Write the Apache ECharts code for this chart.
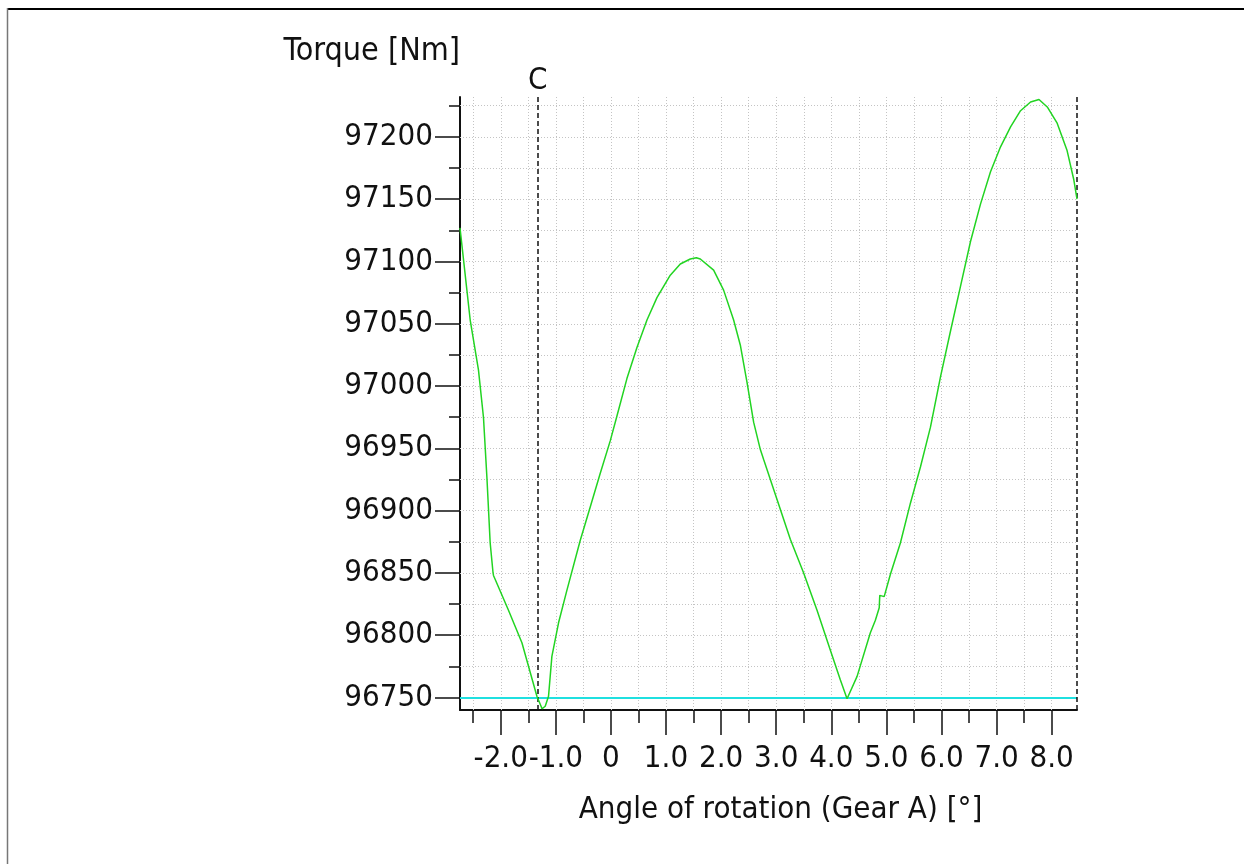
<!DOCTYPE html>
<html>
<head>
<meta charset="utf-8">
<title>Torque vs angle of rotation</title>
<script src="https://cdn.jsdelivr.net/npm/echarts@6/dist/echarts.min.js"></script>
<style>
  html, body { margin: 0; padding: 0; background: #fff; }
  #chart { width: 1244px; height: 864px; }
</style>
</head>
<body>
<div id="chart"></div>
<script>
// Angle of rotation of gear A [°]
const angle = [
  -2.74, -2.555, -2.405, -2.314, -2.252, -2.192, -2.14, -2.132, -1.86, -1.616,
  -1.344, -1.25, -1.193, -1.133, -1.072, -0.951, -0.80, -0.558, -0.376, -0.194,
  -0.013, 0.109, 0.29, 0.472, 0.654, 0.835, 1.077, 1.259, 1.44, 1.55,
  1.622, 1.864, 2.045, 2.227, 2.348, 2.47, 2.59, 2.712, 2.772, 3.015,
  3.256, 3.498, 3.741, 3.983, 4.165, 4.286, 4.468, 4.709, 4.80, 4.87,
  4.88, 4.96, 5.073, 5.254, 5.436, 5.618, 5.80, 5.98, 6.163, 6.345,
  6.527, 6.708, 6.89, 7.072, 7.254, 7.435, 7.617, 7.77, 7.92, 8.1,
  8.28, 8.40, 8.46
];
// Torque [Nm]
const torque = [
  97127, 97053, 97013, 96975, 96927, 96874, 96850, 96848, 96820, 96794,
  96751, 96741, 96743, 96751, 96783, 96810, 96836, 96876, 96903, 96930,
  96956, 96976, 97006, 97031, 97053, 97071, 97089, 97098, 97102, 97103,
  97102, 97093, 97077, 97053, 97033, 97003, 96971, 96949, 96941, 96909,
  96877, 96850, 96820, 96788, 96764, 96749, 96767, 96802, 96812, 96822,
  96832, 96831, 96849, 96874, 96906, 96935, 96967, 97007, 97044, 97080,
  97116, 97146, 97172, 97192, 97208, 97221, 97228, 97230, 97224, 97211,
  97189, 97166, 97150
];

// Axis ranges and tick values
const xRange = [-2.74, 8.46];
const yRange = [96740, 97232];
const xMajorTicks = [-2, -1, 0, 1, 2, 3, 4, 5, 6, 7, 8];
const xMinorTicks = [-2.5, -1.5, -0.5, 0.5, 1.5, 2.5, 3.5, 4.5, 5.5, 6.5, 7.5];
const yMajorTicks = [96750, 96800, 96850, 96900, 96950, 97000, 97050, 97100, 97150, 97200];
const yMinorTicks = [96775, 96825, 96875, 96925, 96975, 97025, 97075, 97125, 97175, 97225];

// Background grid positions
const xGridLines = [-2.5, -2, -1.5, -1, -0.5, 0, 0.5, 1, 1.5, 2, 2.5, 3, 3.5, 4, 4.5, 5, 5.5, 6, 6.5, 7, 7.5, 8];
const yGridLines = [96775, 96800, 96825, 96850, 96875, 96900, 96925, 96950, 96975, 97000,
                    97025, 97050, 97075, 97100, 97125, 97150, 97175, 97200, 97225];

// Vertical markers (dashed) and the reference torque level
const markerAngles = [-1.33, 8.46];
const markerLabels = ['C', ''];
const referenceTorque = 96750;

const FONT = "Tahoma, 'DejaVu Sans Condensed', 'Liberation Sans', sans-serif";
const INK = '#111';

const chart = echarts.init(document.getElementById('chart'), null, { renderer: 'canvas' });

function tickAxis(range, ticks, len, showLine, extra) {
  return Object.assign({
    type: 'value',
    min: range[0],
    max: range[1],
    axisLine: { show: showLine, onZero: false, lineStyle: { color: INK, width: 2 } },
    axisTick: { show: true, inside: false, length: len, customValues: ticks,
                lineStyle: { color: INK, width: 1.5 } },
    axisLabel: { show: false },
    splitLine: { show: false }
  }, extra || {});
}

const option = {
  animation: false,
  backgroundColor: '#fff',
  grid: { left: 460, right: 167, top: 97, bottom: 154, containLabel: false },
  xAxis: [
    tickAxis(xRange, xMajorTicks, 25, true, {
      position: 'bottom',
      axisLabel: {
        show: true, customValues: xMajorTicks, margin: 33,
        fontFamily: FONT, fontSize: 31, color: INK,
        formatter: v => (v === 0 ? '0' : v.toFixed(1))
      },
      name: 'Angle of rotation (Gear A) [°]',
      nameLocation: 'middle',
      nameGap: 84,
      nameTextStyle: { fontFamily: FONT, fontSize: 31, color: INK, padding: [0, 0, 0, 24] }
    }),
    tickAxis(xRange, xMinorTicks, 13, false, { position: 'bottom' })
  ],
  yAxis: [
    tickAxis(yRange, yMajorTicks, 25, true, {
      position: 'left',
      axisLabel: {
        show: true, customValues: yMajorTicks, margin: 27,
        fontFamily: FONT, fontSize: 31, color: INK,
        formatter: v => String(v)
      },
      name: 'Torque [Nm]',
      nameLocation: 'end',
      nameGap: 29,
      nameTextStyle: { fontFamily: FONT, fontSize: 32, color: INK, align: 'right' }
    }),
    tickAxis(yRange, yMinorTicks, 11, false, { position: 'left' })
  ],
  series: [
    {
      // dotted background grid
      type: 'line',
      data: [],
      silent: true,
      z: 1,
      markLine: {
        silent: true,
        symbol: 'none',
        animation: false,
        label: { show: false },
        lineStyle: { color: '#c4c4c4', width: 1, type: [1, 2] },
        data: xGridLines.map(v => ({ xAxis: v }))
             .concat(yGridLines.map(v => ({ yAxis: v })))
      }
    },
    {
      // reference level
      type: 'line',
      data: [],
      silent: true,
      z: 2,
      markLine: {
        silent: true,
        symbol: 'none',
        animation: false,
        label: { show: false },
        lineStyle: { color: '#1fe0e0', width: 2, type: 'solid' },
        data: [{ yAxis: referenceTorque }]
      }
    },
    {
      name: 'Torque',
      type: 'line',
      data: angle.map((a, i) => [a, torque[i]]),
      showSymbol: false,
      symbol: 'none',
      clip: true,
      z: 5,
      lineStyle: { color: '#22d422', width: 1.5 },
      markLine: {
        silent: true,
        symbol: 'none',
        animation: false,
        lineStyle: { color: INK, width: 1.5, type: [5, 3] },
        label: {
          show: true, position: 'end', distance: 1,
          fontFamily: FONT, fontSize: 31, color: INK,
          formatter: p => p.name
        },
        data: markerAngles.map((v, i) => ({ xAxis: v, name: markerLabels[i] }))
      }
    }
  ],
  graphic: [
    { type: 'line', shape: { x1: 7, y1: 9, x2: 1244, y2: 9 }, style: { stroke: '#000', lineWidth: 2 } },
    { type: 'line', shape: { x1: 7.5, y1: 8, x2: 7.5, y2: 864 }, style: { stroke: '#777', lineWidth: 1.5 } }
  ]
};

chart.setOption(option);
</script>
</body>
</html>
